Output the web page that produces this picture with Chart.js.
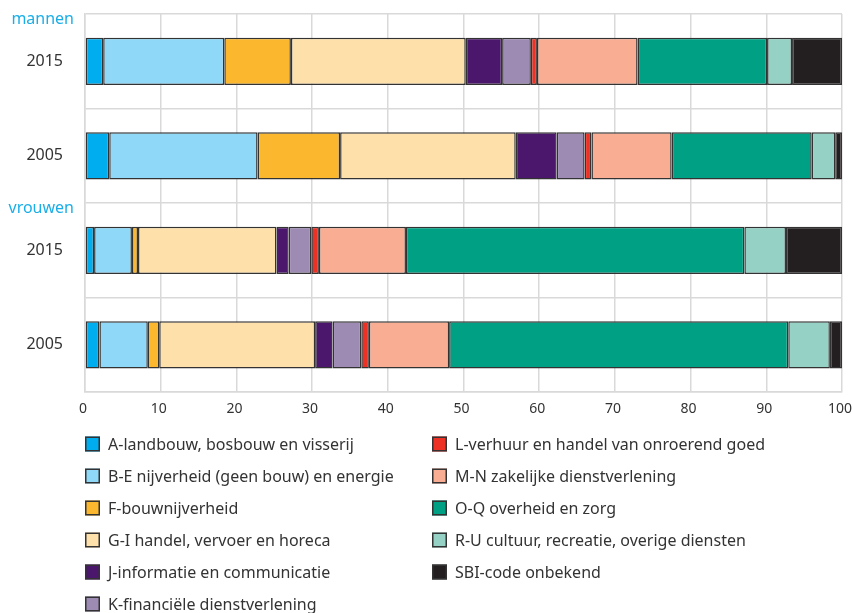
<!DOCTYPE html>
<html>
<head>
<meta charset="utf-8">
<script src="https://cdn.jsdelivr.net/npm/chart.js@4"></script>
<style>
  html, body { margin: 0; padding: 0; background: #fff; }
  #wrap { width: 853px; height: 613px; }
</style>
</head>
<body>
<div id="wrap"><canvas id="chart"></canvas></div>
<script>
// Categorieën (rijen) en groepslabels
const years = ["2015", "2005", "2015", "2005"];
const groups = ["mannen", null, "vrouwen", null];

// Sectoren en kleuren
const sectors = [
  "A-landbouw, bosbouw en visserij",
  "B-E nijverheid (geen bouw) en energie",
  "F-bouwnijverheid",
  "G-I handel, vervoer en horeca",
  "J-informatie en communicatie",
  "K-financiële dienstverlening",
  "L-verhuur en handel van onroerend goed",
  "M-N zakelijke dienstverlening",
  "O-Q overheid en zorg",
  "R-U cultuur, recreatie, overige diensten",
  "SBI-code onbekend"
];
const colors = ["#00aeef", "#8fd8f7", "#fbb82f", "#fee0ab", "#4b176d", "#9e8bb4",
                "#ee3125", "#f9ae93", "#00a085", "#95d1c5", "#231f20"];

// Aandelen (%) per rij: mannen 2015, mannen 2005, vrouwen 2015, vrouwen 2005
const valA   = [2.4, 3.2, 1.2, 1.9];
const valBE  = [16.0, 19.6, 5.0, 6.4];
const valF   = [8.8, 10.9, 0.8, 1.5];
const valGI  = [23.1, 23.2, 18.3, 20.6];
const valJ   = [4.8, 5.4, 1.6, 2.3];
const valK   = [3.8, 3.7, 3.0, 3.8];
const valL   = [0.8, 0.9, 1.0, 1.0];
const valMN  = [13.3, 10.6, 11.5, 10.6];
const valOQ  = [17.1, 18.5, 44.7, 44.8];
const valRU  = [3.3, 3.1, 5.5, 5.5];
const valSBI = [6.6, 0.9, 7.4, 1.6];
const seriesValues = [valA, valBE, valF, valGI, valJ, valK, valL, valMN, valOQ, valRU, valSBI];

const xTicks = [0, 10, 20, 30, 40, 50, 60, 70, 80, 90, 100];

const FONT = "'Noto Sans', sans-serif";
const TEXT = "#333333";
const GRID = "#d9d9d9";

// Groepslabels (mannen / vrouwen) boven de rijen
const groupLabels = {
  id: "groupLabels",
  afterDraw(chart) {
    const ctx = chart.ctx;
    const y = chart.scales.y;
    const step = y.getPixelForValue(1) - y.getPixelForValue(0);
    ctx.save();
    ctx.font = "16px " + FONT;
    ctx.fillStyle = "#1aaee8";
    ctx.textAlign = "right";
    ctx.textBaseline = "middle";
    groups.forEach((g, i) => {
      if (!g) return;
      const top = y.getPixelForValue(i) - step / 2;
      ctx.fillText(g, chart.chartArea.left - 11, top + 5);
    });
    ctx.restore();
  }
};

// Legenda in twee kolommen onder de grafiek
const columnLegend = {
  id: "columnLegend",
  afterDraw(chart) {
    const ctx = chart.ctx;
    const left = chart.chartArea.left;
    const colX = [left, left + 347];
    const rowY0 = 444, rowStep = 32, perCol = 6;
    ctx.save();
    ctx.font = "16px " + FONT;
    ctx.textBaseline = "middle";
    chart.data.datasets.forEach((ds, i) => {
      const col = Math.floor(i / perCol);
      const row = i % perCol;
      const x = colX[col];
      const y = rowY0 + row * rowStep;
      ctx.fillStyle = ds.backgroundColor;
      ctx.fillRect(x, y - 7.5, 15, 15);
      ctx.strokeStyle = "#333";
      ctx.lineWidth = 1.5;
      ctx.strokeRect(x + 0.75, y - 6.75, 13.5, 13.5);
      ctx.fillStyle = TEXT;
      ctx.fillText(ds.label, x + 23, y + 1);
    });
    ctx.restore();
  }
};

const ctx = document.getElementById("chart").getContext("2d");
new Chart(ctx, {
  type: "bar",
  data: {
    labels: years,
    datasets: sectors.map((s, i) => ({
      label: s,
      data: seriesValues[i],
      backgroundColor: colors[i],
      borderColor: "#333333",
      borderWidth: 1.5,
      borderSkipped: false,
      categoryPercentage: 1,
      barPercentage: 0.5
    }))
  },
  options: {
    indexAxis: "y",
    responsive: true,
    maintainAspectRatio: false,
    animation: false,
    layout: { padding: { top: 14, right: 11, bottom: 191, left: 0 } },
    plugins: {
      legend: { display: false },
      tooltip: { enabled: false }
    },
    scales: {
      x: {
        stacked: true,
        min: 0,
        max: 100,
        afterBuildTicks: s => { s.ticks = xTicks.map(v => ({ value: v })); },
        afterFit: s => { s.height = 30; s.paddingLeft = 0; s.paddingRight = 0; },
        grid: { color: GRID, lineWidth: 1.5, drawTicks: false },
        border: { color: GRID, width: 1.5 },
        ticks: { color: TEXT, font: { family: FONT, size: 14 }, padding: 9, maxRotation: 0, labelOffset: -2 }
      },
      y: {
        stacked: true,
        afterFit: s => { s.width = 85; s.paddingTop = 0; s.paddingBottom = 0; },
        grid: { color: GRID, lineWidth: 1.5, drawTicks: false, offset: true },
        border: { color: GRID, width: 1.5 },
        ticks: { color: TEXT, font: { family: FONT, size: 16 }, padding: 22 }
      }
    }
  },
  plugins: [groupLabels, columnLegend]
});
</script>
</body>
</html>
